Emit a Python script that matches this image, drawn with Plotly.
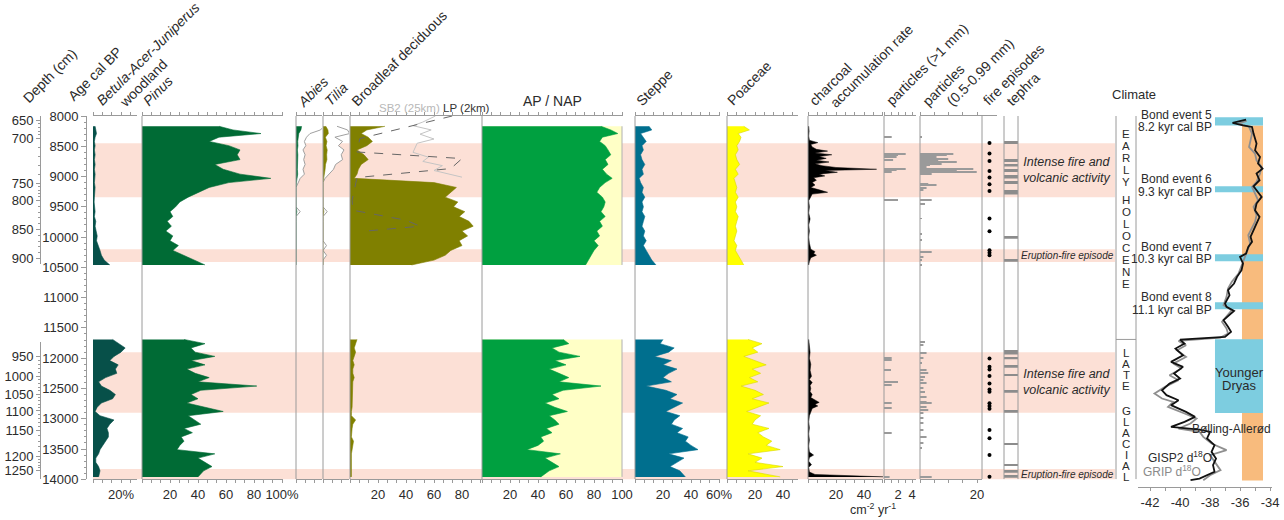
import plotly.graph_objects as go
import numpy as np

# ---------------- DATA ----------------
age_up = [8170, 8230, 8290, 8350, 8420, 8490, 8560, 8640, 8720, 8800, 8880, 8960, 9030, 9100, 9180, 9260,
          9340, 9420, 9500, 9580, 9660, 9740, 9820, 9900, 9980, 10060, 10140, 10220, 10300, 10380, 10460]
age_lo = [11690, 11760, 11830, 11900, 11970, 12040, 12110, 12180, 12250, 12320, 12390, 12460, 12530, 12600,
          12670, 12740, 12810, 12880, 12950, 13020, 13090, 13160, 13230, 13300, 13370, 13440, 13510, 13580,
          13650, 13720, 13790, 13860, 13960]

betula_up = [1.5, 2, 2.5, 1.5, 1, 1.5, 1, 1.5, 1, 1.5, 1, 1.5, 1, 1, 1.5, 1, 1, 0.8, 1, 1.5, 1, 2, 1.5, 2.5, 3, 2.5, 4, 5, 6, 8, 12]
betula_lo = [14, 19, 23, 20, 15, 12, 18, 16, 17, 9, 4, 6, 12, 16, 14, 6, 3, 1.5, 5, 15, 12, 10, 11, 11, 9, 7, 5, 4, 2, 2, 4, 5, 4]

pinus_up = [55, 65, 85, 55, 48, 62, 70, 68, 70, 52, 58, 70, 92, 62, 48, 40, 33, 27, 24, 20, 22, 18, 21, 17, 22, 20, 26, 22, 30, 38, 45]
pinus_lo = [30, 45, 35, 38, 52, 35, 45, 32, 38, 48, 40, 82, 42, 35, 40, 32, 45, 58, 33, 38, 42, 30, 36, 28, 30, 27, 25, 52, 40, 45, 50, 44, 40]

abies_up = [4, 3.5, 2, 1.5, 1.2, 1.4, 1.0, 1.3, 1.1, 1.3, 1.0, 1.2, 0.6, 0.3, 0, 0, 0, 0, 0, 0.6, 0, 0, 0, 0, 0, 0, 0, 0, 0, 0, 0]
tilia_up = [2.0, 3.5, 3.8, 1.7, 2.8, 2.2, 3.0, 2.6, 2.8, 1.8, 1.5, 0.8, 0.3, 0, 0, 0, 0, 0, 0, 0.6, 0, 0, 0, 0, 0, 0, 0.5, 0, 0.5, 0, 0]
EXAG = 5  # exaggeration factor of the grey outline curves

broadleaf_up = [25, 12, 8, 13, 16, 12, 5, 10, 13, 8, 6, 5, 3, 60, 76, 72, 68, 77, 74, 82, 78, 85, 88, 80, 84, 78, 80, 72, 68, 60, 44]
broadleaf_lo = [5, 4, 3, 4, 3, 2, 3, 2, 2, 3, 2, 2, 2, 2, 2, 1.5, 1.5, 1, 1, 4, 2, 1.5, 1, 1, 2.5, 2, 1, 1, 1, 1, 1, 1, 1]

lp_age = [8000, 8373, 8594, 8703, 8868, 9017, 9391, 9556, 9721, 9820, 9897, 9968]
lp_val = [73, 7, 5, 80, 72, 5, 1.5, 2, 40, 50, 13, 13]
sb2_age = [8000, 8100, 8160, 8230, 8300, 8380, 8450, 8600, 8680, 8750, 8820, 8900, 9010]
sb2_val = [61, 52, 45, 58, 50, 60, 48, 45, 56, 52, 66, 60, 80]

ap_up = [85, 92, 97, 86, 84, 88, 90, 92, 88, 90, 86, 89, 93, 88, 84, 82, 86, 88, 87, 85, 88, 84, 86, 82, 84, 80, 83, 80, 78, 76, 74]
ap_lo = [58, 62, 50, 55, 70, 52, 60, 48, 55, 62, 55, 85, 58, 50, 55, 45, 52, 61, 48, 52, 55, 46, 50, 42, 44, 40, 32, 56, 45, 50, 55, 48, 42]
AP_NAP_TOTAL = 100

steppe_up = [10, 12, 4, 6, 8, 5, 6, 4, 5, 7, 5, 6, 3, 4, 6, 5, 7, 5, 6, 5, 7, 6, 5, 7, 6, 8, 6, 8, 10, 12, 15]
steppe_lo = [20, 18, 28, 24, 14, 26, 20, 30, 24, 20, 26, 8, 22, 30, 25, 34, 28, 22, 32, 28, 26, 34, 30, 38, 36, 40, 45, 24, 35, 30, 25, 32, 36]

poaceae_up = [12, 16, 8, 10, 9, 7, 8, 6, 7, 9, 6, 8, 5, 6, 7, 6, 8, 6, 7, 6, 8, 7, 6, 7, 6, 5, 7, 6, 8, 10, 12]
poaceae_lo = [15, 25, 18, 22, 12, 20, 28, 18, 24, 16, 22, 10, 20, 26, 18, 30, 22, 14, 24, 20, 18, 30, 22, 26, 32, 28, 38, 15, 25, 20, 40, 15, 38]

char_up_age = [8170, 8250, 8330, 8400, 8440, 8470, 8510, 8550, 8580, 8610, 8640, 8670, 8700, 8730, 8760, 8790,
               8820, 8850, 8880, 8900, 8930, 8960, 8990, 9020, 9060, 9100, 9140, 9180, 9220, 9260, 9290, 9330,
               9400, 9500, 9600, 9700, 9800, 9900, 10000, 10100, 10200, 10240, 10270, 10300, 10340, 10400, 10460]
char_up = [0.5, 0.8, 0.5, 1, 7, 2, 3, 6, 14, 5, 17, 8, 13, 6, 15, 5, 10, 20, 49, 12, 21, 8, 12, 4, 6, 3, 5, 2, 8, 14, 3, 2,
           0.5, 1, 0.5, 1.5, 0.5, 1, 0.5, 1, 2, 5, 4, 6, 2, 1, 0.5]
char_lo_age = [11690, 11800, 11900, 12000, 12100, 12200, 12300, 12350, 12400, 12450, 12500, 12550, 12600, 12650,
               12700, 12730, 12760, 12790, 12830, 12880, 12950, 13050, 13150, 13250, 13350, 13450, 13550, 13600,
               13640, 13700, 13760, 13800, 13880, 13920, 13940, 13960]
char_lo = [0.5, 1, 1.5, 1, 2, 1.5, 2.5, 1, 3, 1.5, 2, 1.5, 3, 2, 6, 8, 5, 7, 3, 2, 1, 0.5, 1, 0.5, 1, 0.5, 1, 4,
           1, 0.5, 2.5, 0.5, 1, 5, 25, 54]

p1_age = [8346, 8621, 8648, 8676, 8731, 8868, 8896, 8924, 9391, 12003, 12030, 12196, 12400, 12443, 12745, 12828, 13240, 13957]
p1_val = [1.1, 3.1, 2.0, 1.8, 1.3, 3.1, 1.8, 1.1, 2.0, 1.1, 1.1, 1.0, 2.0, 1.1, 1.1, 1.1, 1.1, 0.8]

p05_age = [8346, 8621, 8648, 8676, 8703, 8731, 8759, 8786, 8813, 8841, 8868, 8896, 8924, 8951, 9116, 9143, 9182,
           9226, 9391, 9446, 9693, 9941, 10051, 10244, 10326, 10381, 10464,
           11729, 11784, 11921, 12003, 12086, 12196, 12251, 12307, 12361, 12416, 12498, 12554, 12637, 12719, 12745,
           12802, 12856, 12910, 12993, 13075, 13186, 13296, 13405, 13488, 13957]
p05_val = [0.6, 11.7, 9.4, 5.8, 9.9, 6.4, 12.9, 7.6, 3.5, 2.3, 18.7, 12.9, 19.9, 4.1, 2.9, 5.8, 2.3, 1.2, 4.1, 1.75,
           0.6, 0.6, 0.6, 4.1, 1.2, 0.6, 0.6,
           1.75, 1.2, 2.3, 1.2, 0.6, 2.3, 2.9, 1.75, 1.2, 2.3, 1.2, 1.75, 2.3, 2.3, 4.1, 2.3, 2.9, 1.2, 1.2, 1.2, 1.2,
           2.3, 1.2, 0.6, 4.1]

fire_age = [8445, 8621, 8742, 8907, 9017, 9127, 9237, 9693, 9903, 10216, 10260, 10299,
            12003, 12141, 12186, 12296, 12416, 12515, 12554, 12745, 12790, 12833, 13186, 13323, 13599, 13957]
tephra_age = [8445, 8742, 8818, 8907, 8995, 9017, 9105, 9254, 9281, 10013, 10393,
              11894, 11921, 12003, 12141, 12279, 12554, 12884, 13417, 13764, 13874, 13957]

band_start = [8450, 10200, 11900, 13830]
band_end = [9340, 10410, 12900, 14010]
band_text = ['Intense fire and<br>volcanic activity', 'Eruption-fire episode',
             'Intense fire and<br>volcanic activity', 'Eruption-fire episode']

depth_up = [650, 700, 750, 800, 850, 900]
depth_up_age = [8071, 8374, 9117, 9392, 9876, 10355]
depth_lo = [950, 1000, 1050, 1100, 1150, 1200, 1250]
depth_lo_age = [11967, 12297, 12595, 12871, 13201, 13618, 13861]

gisp2_age = [8060, 8115, 8153, 8181, 8291, 8456, 8566, 8676, 8786, 8869, 8951, 9061, 9160, 9254, 9336, 9446,
             9556, 9666, 9776, 9886, 9996, 10079, 10161, 10271, 10326, 10436, 10546, 10656, 10766, 10876, 10959,
             11097, 11152, 11218, 11290, 11372, 11482, 11565, 11648, 11692, 11758, 11841, 11951, 12061, 12143,
             12253, 12336, 12419, 12529, 12611, 12694, 12776, 12886, 12969, 13051, 13134, 13180, 13216, 13326,
             13436, 13546, 13657, 13767, 13877, 13987, 14015]
gisp2_d18o = [-35.6, -36.5, -35.8, -35.2, -35.1, -34.9, -35.0, -34.67, -34.8, -34.5, -34.9, -34.7, -35.1, -34.8,
              -34.56, -34.9, -35.0, -34.7, -34.9, -35.1, -35.3, -35.2, -35.45, -35.6, -36.0, -35.8, -35.9, -36.2,
              -36.4, -36.8, -36.7, -37.0, -36.9, -36.4, -36.7, -37.1, -36.8, -36.6, -37.0, -40.0, -39.7, -40.3,
              -39.8, -40.6, -39.8, -40.4, -40.0, -40.7, -41.2, -40.9, -40.1, -40.6, -39.6, -39.0, -39.7, -40.6,
              -38.7, -38.0, -38.2, -37.7, -37.9, -37.6, -37.8, -37.7, -38.7, -39.3]
grip_age = [8080, 8126, 8181, 8291, 8511, 8621, 8731, 8841, 8951, 9089, 9171, 9281, 9391, 9501, 9639, 9749, 9859,
            9969, 10106, 10244, 10354, 10491, 10601, 10739, 10849, 10986, 11124, 11207, 11317, 11400, 11510, 11593,
            11659, 11714, 11786, 11869, 11979, 12089, 12171, 12281, 12364, 12474, 12584, 12666, 12721, 12804, 12914,
            12996, 13079, 13161, 13216, 13299, 13409, 13519, 13601, 13711, 13849, 13932, 14014]
grip_d18o = [-35.56, -36.1, -35.4, -35.2, -35.4, -35.0, -34.9, -34.56, -34.67, -34.9, -35.2, -35.0, -34.8, -35.1,
             -34.9, -35.0, -35.2, -35.45, -35.33, -35.55, -35.7, -35.9, -36.1, -36.55, -36.8, -36.9, -37.1, -36.55,
             -36.9, -37.2, -36.9, -36.8, -37.3, -40.1, -39.6, -40.2, -39.6, -40.45, -39.9, -40.7, -40.1, -41.0,
             -41.7, -41.2, -40.45, -40.8, -39.7, -38.9, -39.3, -40.1, -38.7, -38.45, -37.9, -36.9, -38.0, -37.7,
             -37.3, -38.0, -38.45]

bond_names = ['Bond event 5', 'Bond event 6', 'Bond event 7', 'Bond event 8']
bond_kyr = ['8.2 kyr cal BP', '9.3 kyr cal BP', '10.3 kyr cal BP', '11.1 kyr cal BP']
bond_top = [8020, 9160, 10282, 11074]
bond_bot = [8155, 9260, 10398, 11190]
yd_top, yd_bot = 11686, 12907
warm_top, warm_bot = 8155, 14020
bar_d18o = [-37.67, -34.47]
warm_d18o = [-35.87, -34.47]
holocene_boundary = 11690

# ---------------- LAYOUT HELPERS ----------------
W, H = 1284, 520
MT, MB = 116, 33
PH = H - MT - MB
AGE_TOP, AGE_BOT = 8000, 14000
PX_BOT = 479.3
D0 = (H - MB - PX_BOT) / PH
Y5_BOT = AGE_BOT + D0 * (AGE_BOT - AGE_TOP) / (1 - D0)

FONT = 'Liberation Sans, Arial, sans-serif'
LINE = '#9a9a9a'
TXT = '#2b2b2b'


def X(px):
    return px / W


def Y(py):
    return (H - MB - py) / PH


def age_frac(a):
    return D0 + (1 - D0) * (AGE_BOT - a) / (AGE_BOT - AGE_TOP)


fig = go.Figure()


def area(xv, yv, ax, fill, line=None, width=0.6, ya='y'):
    fig.add_trace(go.Scatter(x=list(xv), y=list(yv), xaxis=ax, yaxis=ya, mode='lines', fill='tozerox',
                             fillcolor=fill, line=dict(color=line or fill, width=width),
                             hoverinfo='skip', showlegend=False))


def line(xv, yv, ax, color, width=1.0, dash='solid', ya='y'):
    fig.add_trace(go.Scatter(x=list(xv), y=list(yv), xaxis=ax, yaxis=ya, mode='lines',
                             line=dict(color=color, width=width, dash=dash), hoverinfo='skip', showlegend=False))


C_BET = '#075049'
C_PIN = '#006b35'
C_OLI = '#808000'
C_AP = '#00a040'
C_NAP = '#ffffc6'
C_STE = '#006f8e'
C_POA = '#ffff00'
C_PINK = '#fce0d6'

for ages, b, p, bl, ap, st, po in [(age_up, betula_up, pinus_up, broadleaf_up, ap_up, steppe_up, poaceae_up),
                                   (age_lo, betula_lo, pinus_lo, broadleaf_lo, ap_lo, steppe_lo, poaceae_lo)]:
    area(b, ages, 'x', C_BET)
    area(p, ages, 'x2', C_PIN)
    area(bl, ages, 'x5', C_OLI)
    area([AP_NAP_TOTAL] * len(ages), ages, 'x6', C_NAP, line='#b0b0b0', width=1)
    area(ap, ages, 'x6', C_AP)
    area(st, ages, 'x7', C_STE)
    area(po, ages, 'x8', C_POA, line='#d8d800', width=0.6)

area(np.array(abies_up) * EXAG, age_up, 'x3', 'white', line='#a0a0a0', width=1)
area(abies_up, age_up, 'x3', C_PIN)
area(np.array(tilia_up) * EXAG, age_up, 'x4', 'white', line='#a0a0a0', width=1)
area(tilia_up, age_up, 'x4', C_OLI)

line(sb2_val, sb2_age, 'x5', '#c4c4c4', 1.0)
line(lp_val, lp_age, 'x5', '#666666', 1.0, dash='dash')

area(char_up, char_up_age, 'x9', 'black', width=0.5)
area(char_lo, char_lo_age, 'x9', 'black', width=0.5)

fig.add_trace(go.Bar(x=p1_val, y=p1_age, orientation='h', width=16, xaxis='x10', yaxis='y',
                     marker=dict(color='#9a9a9a', line=dict(width=0)), hoverinfo='skip', showlegend=False))
fig.add_trace(go.Bar(x=p05_val, y=p05_age, orientation='h', width=16, xaxis='x11', yaxis='y',
                     marker=dict(color='#9a9a9a', line=dict(width=0)), hoverinfo='skip', showlegend=False))
fig.add_trace(go.Scatter(x=[0.5] * len(fire_age), y=fire_age, xaxis='x12', yaxis='y', mode='markers',
                         marker=dict(color='black', size=4), hoverinfo='skip', showlegend=False))
fig.add_trace(go.Bar(x=[1] * len(tephra_age), y=tephra_age, orientation='h', width=32, xaxis='x13', yaxis='y',
                     marker=dict(color='#8c8c8c', line=dict(width=0)), hoverinfo='skip', showlegend=False))

line(grip_d18o, grip_age, 'x14', '#8f8f8f', 1.8, ya='y5')
line(gisp2_d18o, gisp2_age, 'x14', '#111111', 1.8, ya='y5')

# dummy traces so the depth axes exist
fig.add_trace(go.Scatter(x=[None], y=[None], xaxis='x', yaxis='y2', showlegend=False, hoverinfo='skip'))
fig.add_trace(go.Scatter(x=[None], y=[None], xaxis='x', yaxis='y3', showlegend=False, hoverinfo='skip'))


def xcfg(px0, px1, unit, step, labels, anchor='y', show=True):
    rmax = (px1 - px0) / unit
    vals = sorted(labels.keys())
    d = dict(domain=[X(px0), X(px1)], range=[0, rmax], anchor=anchor, showline=show, linecolor=LINE,
             linewidth=1, mirror='ticks' if show else False, ticks='outside' if show else '', ticklen=3,
             tickcolor=LINE, tickwidth=1,
             minor=dict(tick0=0, dtick=step, ticks='outside', ticklen=3, tickcolor=LINE, tickwidth=1),
             showgrid=False, zeroline=False, tickfont=dict(size=13, color=TXT), fixedrange=True)
    if vals:
        d.update(tickmode='array', tickvals=vals, ticktext=[labels[v] for v in vals])
    else:
        d.update(tickmode='linear', tick0=0, dtick=step, showticklabels=False)
    return d


s3 = 20 / 3
lay = dict(
    xaxis=xcfg(93, 137, 1.4, s3, {20: '20%'}),
    xaxis2=xcfg(142, 283, 1.4, s3, {20: '20', 40: '40', 60: '60', 80: '80', 100: '100%'}),
    xaxis3=xcfg(296, 322, 1.4, s3, {}),
    xaxis4=xcfg(323, 349, 1.4, s3, {}),
    xaxis5=xcfg(350, 482, 1.4, s3, {20: '20', 40: '40', 60: '60', 80: '80'}),
    xaxis6=xcfg(482, 623, 1.4, s3, {20: '20', 40: '40', 60: '60', 80: '80', 100: '100'}),
    xaxis7=xcfg(635, 720, 1.4, s3, {20: '20', 40: '40', 60: '60%'}),
    xaxis8=xcfg(727, 798, 1.4, s3, {20: '20', 40: '40'}),
    xaxis9=xcfg(808, 883, 1.4, s3, {20: '20', 40: '40'}),
    xaxis10=xcfg(884, 916, 7.0, 1, {2: '2', 4: '4'}),
    xaxis11=xcfg(920, 982, 2.85, 5, {20: '20'}),
)
lay['xaxis12'] = dict(domain=[X(982), X(997)], range=[0, 1], anchor='y', side='top', showline=True,
                      linecolor=LINE, ticks='', showticklabels=False, showgrid=False, zeroline=False)
lay['xaxis13'] = dict(domain=[X(1004), X(1018)], range=[0, 1], anchor='y', showline=False, ticks='',
                      showticklabels=False, showgrid=False, zeroline=False)
cl_vals = list(range(-42, -33, 2))
lay['xaxis14'] = dict(domain=[X(1138), X(1272)], range=[-42.8, -33.87], anchor='y5', showline=True,
                      linecolor=LINE, ticks='outside', ticklen=3, tickcolor=LINE, tickmode='array',
                      tickvals=cl_vals, ticktext=[str(v) for v in cl_vals],
                      minor=dict(tick0=0, dtick=1, ticks='outside', ticklen=3, tickcolor=LINE),
                      showgrid=False, zeroline=False, tickfont=dict(size=13, color=TXT))

lay['yaxis'] = dict(domain=[D0, 1], range=[AGE_BOT, AGE_TOP], anchor='free', position=X(86), side='left',
                    showline=True, linecolor=LINE, ticks='outside', ticklen=5, tickcolor=LINE,
                    tickmode='linear', tick0=8000, dtick=500, tickformat='d',
                    minor=dict(dtick=100, ticklen=2.5, tickcolor=LINE, ticks='outside'),
                    showgrid=False, zeroline=False, tickfont=dict(size=13, color=TXT))

up_top, up_bot = AGE_TOP, 10450
lo_top, lo_bot = 11730, AGE_BOT
minor_up = [float(np.interp(d, depth_up, depth_up_age)) for d in range(650, 901, 10)]
minor_lo = [float(np.interp(d, depth_lo, depth_lo_age)) for d in range(950, 1251, 10)]
for key, dom, rng, tv, tt, mv in [('yaxis2', [age_frac(up_bot), 1], [up_bot, up_top], depth_up_age, depth_up, minor_up),
                                  ('yaxis3', [D0, age_frac(lo_top)], [lo_bot, lo_top], depth_lo_age, depth_lo, minor_lo)]:
    lay[key] = dict(domain=dom, range=rng, anchor='free', position=X(40), side='left', showline=True,
                    linecolor=LINE, ticks='outside', ticklen=4, tickcolor=LINE, tickmode='array',
                    tickvals=tv, ticktext=[str(d) for d in tt],
                    minor=dict(tickmode='array', tickvals=mv, ticklen=2, tickcolor=LINE, ticks='outside'),
                    showgrid=False, zeroline=False, tickfont=dict(size=13, color=TXT))
lay['yaxis5'] = dict(domain=[0, 1], range=[Y5_BOT, AGE_TOP], anchor='free', position=X(1138), visible=False,
                     showgrid=False, zeroline=False)

# ---------------- SHAPES ----------------
shapes = []
for a0, a1 in zip(band_start, band_end):
    shapes.append(dict(type='rect', xref='paper', yref='y', x0=X(93), x1=X(1115), y0=a0, y1=a1,
                       fillcolor=C_PINK, line=dict(width=0), layer='below'))
for px in [142, 296, 323, 350, 482, 635, 727, 808, 884, 920, 982, 1004, 1018, 1116, 1136]:
    shapes.append(dict(type='line', xref='paper', yref='y', x0=X(px), x1=X(px), y0=AGE_TOP, y1=AGE_BOT,
                       line=dict(color=LINE, width=1), layer='above'))
shapes.append(dict(type='line', xref='paper', yref='y', x0=X(1116), x1=X(1136), y0=holocene_boundary,
                   y1=holocene_boundary, line=dict(color=LINE, width=1)))
shapes.append(dict(type='rect', xref='x14', yref='y5', x0=warm_d18o[0], x1=warm_d18o[1], y0=warm_top, y1=warm_bot,
                   fillcolor='#f8bb7d', line=dict(width=0), layer='below'))
for t, b in zip(bond_top + [yd_top], bond_bot + [yd_bot]):
    shapes.append(dict(type='rect', xref='x14', yref='y5', x0=bar_d18o[0], x1=bar_d18o[1], y0=t, y1=b,
                       fillcolor='#7dcde0', line=dict(width=0), layer='below'))

# ---------------- ANNOTATIONS ----------------
ann = []


def txt(s, px, py, size=13, color=TXT, xa='center', ya='middle', angle=0, italic=False, height=None):
    if italic:
        s = '<i>' + s + '</i>'
    d = dict(text=s, x=X(px), y=Y(py), xref='paper', yref='paper', showarrow=False, xanchor=xa,
             yanchor=ya, textangle=angle, borderpad=0, font=dict(size=size, color=color, family=FONT))
    if height:
        d['height'] = height
    ann.append(d)


headers = [('Depth (cm)', 23, 105, False), ('Age cal BP', 68, 103, False),
           ('Betula-Acer-Juniperus', 97, 108, True), ('woodland', 120, 110, False),
           ('Pinus', 143, 108, True), ('Abies', 298, 110, True), ('Tilia', 325, 108, True),
           ('Broadleaf deciduous', 352, 108, False), ('Steppe', 637, 108, False), ('Poaceae', 728, 108, False),
           ('charcoal', 810, 108, False), ('accumulation rate', 830, 110, False),
           ('particles (>1 mm)', 887, 108, False), ('particles', 923, 108, False),
           ('(0.5-0.99 mm)', 947, 108, False), ('fire episodes', 983, 108, False), ('tephra', 1007, 108, False)]
for s, sx, sy, it in headers:
    txt(s, sx - 5, sy + 2, size=14, xa='left', ya='bottom', angle=-45, italic=it)

txt('AP / NAP', 552, 101, size=14)
txt('SB2 (25km)', 409, 108, size=11.5, color='#b8b8b8')
txt('LP (2km)', 466, 108, size=11.5, color='#333333')
txt('cm<sup>-2</sup> yr<sup>-1</sup>', 873, 509, size=12.5)
txt('Climate', 1134, 94, size=13)

for (a0, a1), s in zip(zip(band_start, band_end), band_text):
    mid_py = 116 + ((a0 + a1) / 2 - AGE_TOP) * (PX_BOT - 116) / (AGE_BOT - AGE_TOP)
    big = '<br>' in s
    txt(s, 1067, mid_py, size=12.5 if big else 10, italic=True)

bond_py = [(115, 127), (179, 192), (247, 259), (297, 310)]
for nm, kyr, (p1, p2) in zip(bond_names, bond_kyr, bond_py):
    txt(nm, 1213, p1, size=12, xa='right')
    txt(kyr, 1213, p2, size=12, xa='right')
txt('Younger', 1239, 372, size=13)
txt('Dryas', 1239, 385, size=13)
txt('Bølling-Allerød', 1231, 429, size=12)
txt('GISP2 d<sup>18</sup>O', 1147, 457, size=12, xa='left')
txt('GRIP d<sup>18</sup>O', 1142, 471, size=12, xa='left', color='#8a8a8a')

for i, ch in enumerate('EARLY'):
    txt(ch, 1126, 133 + 12 * i, size=11.5, height=11)
for i, ch in enumerate('HOLOCENE'):
    txt(ch, 1126, 199 + 12 * i, size=11.5, height=11)
for i, ch in enumerate('LATE'):
    txt(ch, 1126, 353 + 11 * i, size=11.5, height=10)
for i, ch in enumerate('GLACIAL'):
    txt(ch, 1126, 411 + 11 * i, size=11.5, height=10)

fig.update_layout(width=W, height=H, autosize=False, margin=dict(l=0, r=0, t=MT, b=MB, autoexpand=False),
                  paper_bgcolor='white', plot_bgcolor='rgba(0,0,0,0)', showlegend=False, barmode='overlay',
                  font=dict(family=FONT, size=13, color=TXT), shapes=shapes, annotations=ann, **lay)
fig.write_html('out.html', config={'displayModeBar': False, 'responsive': False},
               post_script="document.body.style.margin='0px';document.body.style.overflow='hidden';")
